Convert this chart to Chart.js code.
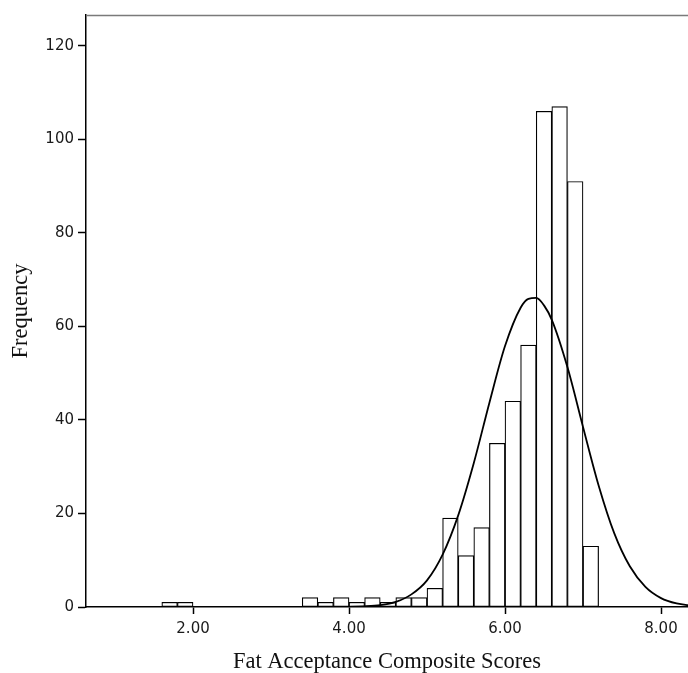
<!DOCTYPE html>
<html>
<head>
<meta charset="utf-8">
<title>Fat Acceptance Composite Scores</title>
<script src="https://cdn.jsdelivr.net/npm/chart.js@4/dist/chart.umd.min.js"></script>
<style>
  html, body { margin: 0; padding: 0; background: #fff; }
  #wrap { width: 688px; height: 673px; position: relative; }
</style>
</head>
<body>
<div id="wrap"><canvas id="histChart"></canvas></div>
<script>
// histogram bins (midpoints, width 0.2) and their counts
const binMids = [1.7, 1.9, 2.1, 2.3, 2.5, 2.7, 2.9, 3.1, 3.3, 3.5, 3.7, 3.9, 4.1, 4.3,
                 4.5, 4.7, 4.9, 5.1, 5.3, 5.5, 5.7, 5.9, 6.1, 6.3, 6.5, 6.7, 6.9, 7.1];
const counts  = [1, 1, 0, 0, 0, 0, 0, 0, 0, 2, 1, 2, 1, 2,
                 1, 2, 2, 4, 19, 11, 17, 35, 44, 56, 106, 107, 91, 13];

// fitted normal curve, sampled along the x axis
const curveX = [0.6, 3.6, 3.8, 4.0, 4.2, 4.4, 4.6, 4.8, 5.0, 5.2, 5.4, 5.6, 5.8, 6.0, 6.2, 6.3,
                6.4, 6.5, 6.6, 6.8, 7.0, 7.2, 7.4, 7.6, 7.8, 8.0, 8.2, 8.4];
const curveY = [0, 0, 0.01, 0.04, 0.14, 0.4, 1.1, 2.7, 5.7, 11.2, 19.6, 30.8, 43.7, 55.8, 64.0, 65.9,
                66.1, 64.5, 61.4, 51.3, 38.5, 26.0, 15.8, 8.7, 4.3, 1.9, 0.75, 0.27];

const xTicks = [2, 4, 6, 8];
const yTicks = [0, 20, 40, 60, 80, 100, 120];

const tickFont = { family: 'DejaVu Sans', size: 15 };
const titleFont = { family: 'Liberation Serif', size: 22.5 };

// thin frame line along the top of the plot
const topFrame = {
  id: 'topFrame',
  afterDraw(chart) {
    const { ctx, chartArea: a } = chart;
    ctx.save();
    ctx.strokeStyle = '#7a7a7a';
    ctx.lineWidth = 1.5;
    ctx.beginPath();
    ctx.moveTo(a.left, a.top + 0.5);
    ctx.lineTo(a.right, a.top + 0.5);
    ctx.stroke();
    ctx.restore();
  }
};

const ctx = document.getElementById('histChart').getContext('2d');
new Chart(ctx, {
  type: 'bar',
  data: {
    datasets: [
      {
        type: 'line',
        data: curveX.map((x, i) => ({ x: x, y: curveY[i] })),
        borderColor: '#000',
        borderWidth: 1.8,
        pointRadius: 0,
        fill: false,
        cubicInterpolationMode: 'monotone',
        order: 0
      },
      {
        type: 'bar',
        data: binMids.map((x, i) => ({ x: x, y: counts[i] })),
        backgroundColor: '#fff',
        borderColor: '#000',
        borderWidth: 1.2,
        borderSkipped: false,
        barPercentage: 1,
        categoryPercentage: 1,
        order: 1
      }
    ]
  },
  options: {
    responsive: true,
    maintainAspectRatio: false,
    animation: false,
    devicePixelRatio: 1,
    layout: { padding: { top: 15, right: 0, left: 0, bottom: 0 } },
    plugins: { legend: { display: false }, tooltip: { enabled: false } },
    scales: {
      x: {
        type: 'linear',
        offset: false,
        min: 0.628,
        max: 8.346,
        afterBuildTicks: s => { s.ticks = xTicks.map(v => ({ value: v })); },
        afterFit: s => { s.height = 66; },
        grid: { offset: false, drawOnChartArea: false, drawTicks: true, tickLength: 7, tickColor: '#000', tickWidth: 1.5 },
        border: { display: true, color: '#000', width: 1.5 },
        ticks: {
          font: tickFont, color: '#1a1a1a', padding: 6, maxRotation: 0,
          callback: v => Number(v).toFixed(2)
        },
        title: {
          display: true, text: 'Fat Acceptance Composite Scores',
          font: titleFont, color: '#111', padding: { top: 0, bottom: -3 }
        }
      },
      y: {
        min: 0,
        max: 126.6,
        afterBuildTicks: s => { s.ticks = yTicks.map(v => ({ value: v })); },
        afterFit: s => { s.width = 86; },
        grid: { drawOnChartArea: false, drawTicks: true, tickLength: 8, tickColor: '#000', tickWidth: 1.5 },
        border: { display: true, color: '#000', width: 1.5 },
        ticks: { font: tickFont, color: '#1a1a1a', padding: 4 },
        title: {
          display: true, text: 'Frequency',
          font: titleFont, color: '#111', padding: { top: 8, bottom: 0 }
        }
      }
    }
  },
  plugins: [topFrame]
});
</script>
</body>
</html>
